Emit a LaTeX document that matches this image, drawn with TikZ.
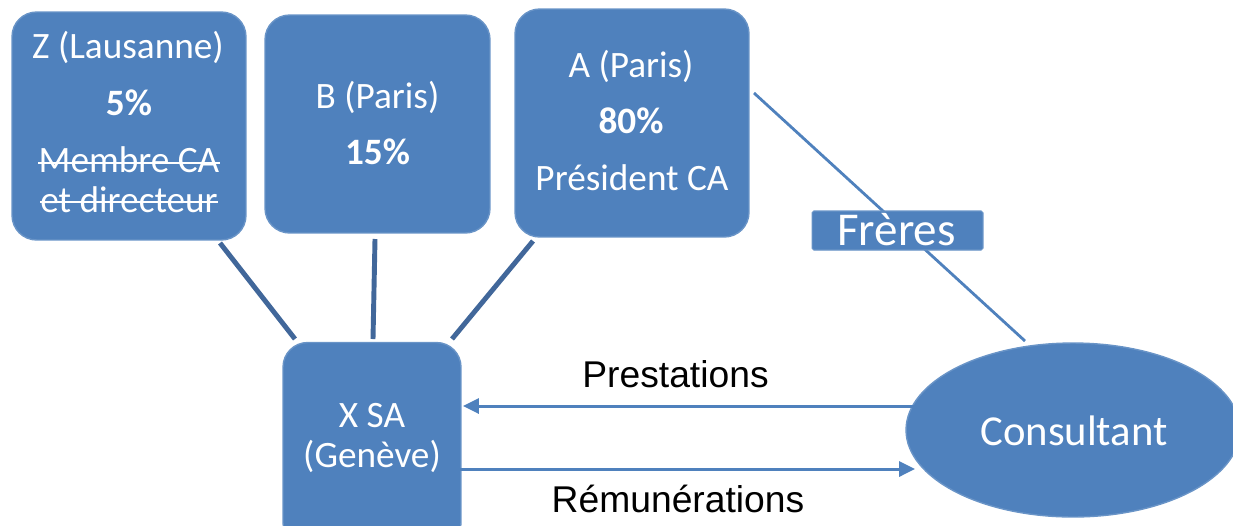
\documentclass[tikz,border=0pt]{standalone}
\usepackage{fontspec}
\setmainfont{Carlito}
\newfontfamily\arialfont{Liberation Sans}
\usetikzlibrary{arrows.meta,shapes.geometric}
\definecolor{officeblue}{HTML}{4F81BD}
\definecolor{darkline}{HTML}{41679A}
\tikzset{
  boxnode/.style={draw=officeblue!85!white, fill=officeblue, line width=0.8pt, rounded corners=14pt, inner sep=0pt},
  boxtext/.style={text=white, anchor=base, font=\fontsize{21.2}{25}\selectfont, inner sep=0pt},
  strike/.style={draw=white, line width=1.1pt},
  tie/.style={draw=darkline, line width=2.8pt},
  frereline/.style={draw=officeblue, line width=1.6pt},
  flow/.style={draw=officeblue, line width=1.7pt, -{Triangle[length=9pt,width=8.5pt]}},
  flowlabel/.style={text=black, anchor=base, font=\arialfont\fontsize{21.2}{25}\selectfont, inner sep=0pt}
}
\begin{document}
\begin{tikzpicture}[x=0.02cm,y=-0.02cm]
\useasboundingbox (0,0) rectangle (1233,525);
\clip (0,0) rectangle (1233,525);
% connectors behind boxes
\coordinate (zt) at (220,243); \coordinate (zb) at (295,339);
\coordinate (bt) at (375,239); \coordinate (bb) at (373,339);
\coordinate (at) at (533,241); \coordinate (ab) at (452,339);
\coordinate (fa) at (754,93);  \coordinate (fc) at (1025,341);
\draw[tie] (zt) -- (zb);
\draw[tie] (bt) -- (bb);
\draw[tie] (at) -- (ab);
\draw[frereline] (fa) -- (fc);
% boxes
\node[boxnode, minimum width=4.68cm, minimum height=4.56cm] (Z) at (129,126) {};
\node[boxnode, minimum width=4.5cm, minimum height=4.36cm] (B) at (377.5,124) {};
\node[boxnode, minimum width=4.68cm, minimum height=4.56cm] (A) at (632,123) {};
\node[boxnode, minimum width=3.56cm, minimum height=4.1cm] (X) at (372,445) {};
\node[draw=officeblue!85!white, fill=officeblue, line width=0.8pt, ellipse, minimum width=6.68cm, minimum height=3.48cm, inner sep=0pt] (C) at (1073,430) {};
\node[draw=officeblue!85!white, fill=officeblue, line width=0.6pt, rounded corners=1pt, minimum width=3.42cm, minimum height=0.78cm, inner sep=0pt] (F) at (897.5,230.5) {};
% texts
\node[boxtext] (zl1) at (128,58) {Z (Lausanne)};
\node[boxtext] (zl2) at (129,115) {\bfseries 5\%};
\node[boxtext] (zl3) at (129,172) {Membre CA};
\node[boxtext] (zl4) at (129,212) {et directeur};
\draw[strike] ([yshift=9*0.02cm]zl3.base west) -- ([yshift=9*0.02cm]zl3.base east);
\draw[strike] ([yshift=10*0.02cm]zl4.base west) -- ([yshift=10*0.02cm]zl4.base east);
\node[boxtext] (bl1) at (377.5,108) {B (Paris)};
\node[boxtext] (bl2) at (377.5,164) {\bfseries 15\%};
\node[boxtext] (al1) at (631,77) {A (Paris)};
\node[boxtext] (al2) at (631,133) {\bfseries 80\%};
\node[boxtext] (al3) at (632,190) {Président CA};
\node[boxtext] (xl1) at (372,427) {X SA};
\node[boxtext] (xl2) at (372,467) {(Genève)};
\node[boxtext, font=\fontsize{24.3}{29}\selectfont] (cl) at (1074,445) {Consultant};
\node[boxtext, font=\fontsize{26.8}{32}\selectfont] (fl) at (896.5,245) {Frères};
% flows
\coordinate (ps) at (946,406); \coordinate (pe) at (463,406);
\coordinate (rs) at (441,469); \coordinate (re) at (915,469);
\draw[flow] (ps) -- (pe);
\draw[flow] (rs) -- (re);
\node[flowlabel] (pl) at (675.5,387) {Prestations};
\node[flowlabel] (rl) at (678,512) {Rémunérations};
\end{tikzpicture}
\end{document}
